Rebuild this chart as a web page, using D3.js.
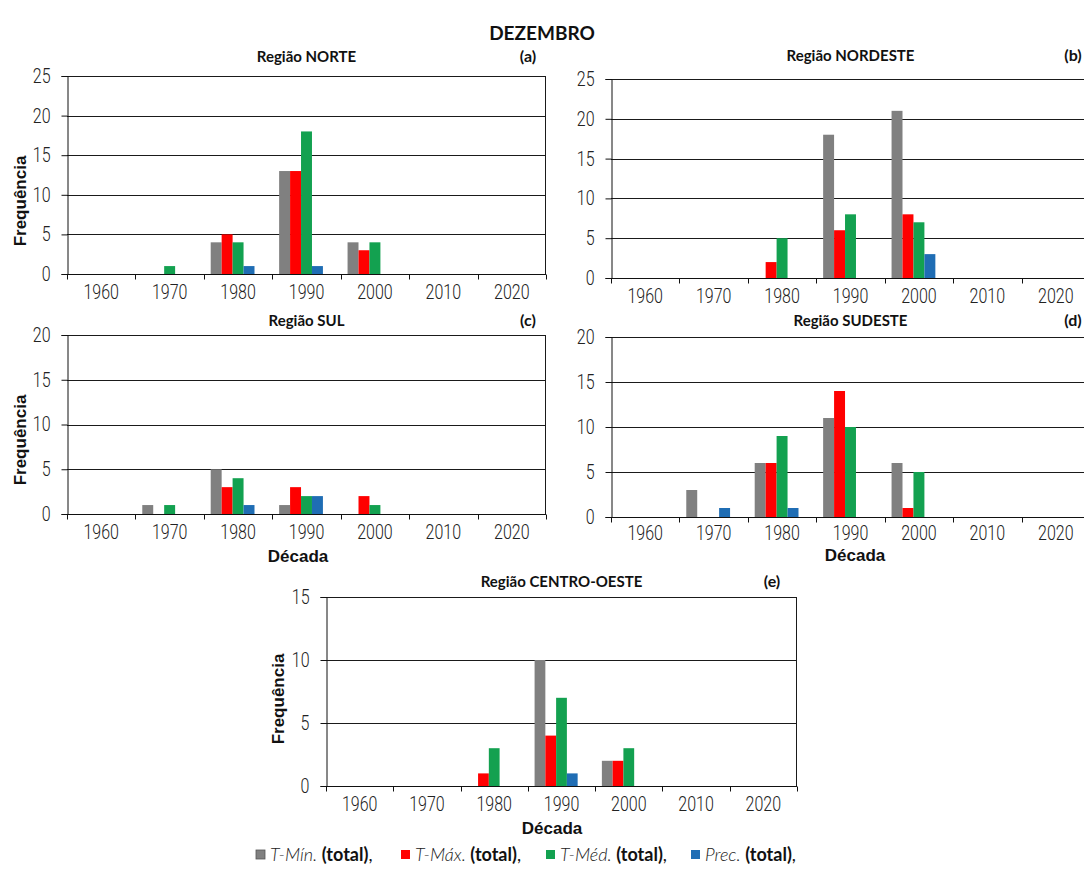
<!DOCTYPE html>
<html>
<head>
<meta charset="utf-8">
<script src="https://cdn.jsdelivr.net/npm/d3@7"></script>
<style>
  body { margin: 0; background: #fff; }
  svg { display: block; }
</style>
</head>
<body>
<svg id="chart" width="1084" height="871"></svg>
<script>
// Decades on the category axis
const decades = ["1960", "1970", "1980", "1990", "2000", "2010", "2020"];
const seriesNames = ["T-Mín.", "T-Máx.", "T-Méd.", "Prec."];
const seriesColors = ["#808080", "#ff0000", "#13a150", "#1f6db4"];

// Frequency of events per decade, one array per series and region
const norteTMin = [0, 0, 4, 13, 4, 0, 0];
const norteTMax = [0, 0, 5, 13, 3, 0, 0];
const norteTMed = [0, 1, 4, 18, 4, 0, 0];
const nortePrec = [0, 0, 1, 1, 0, 0, 0];

const nordesteTMin = [0, 0, 0, 18, 21, 0, 0];
const nordesteTMax = [0, 0, 2, 6, 8, 0, 0];
const nordesteTMed = [0, 0, 5, 8, 7, 0, 0];
const nordestePrec = [0, 0, 0, 0, 3, 0, 0];

const sulTMin = [0, 1, 5, 1, 0, 0, 0];
const sulTMax = [0, 0, 3, 3, 2, 0, 0];
const sulTMed = [0, 1, 4, 2, 1, 0, 0];
const sulPrec = [0, 0, 1, 2, 0, 0, 0];

const sudesteTMin = [0, 3, 6, 11, 6, 0, 0];
const sudesteTMax = [0, 0, 6, 14, 1, 0, 0];
const sudesteTMed = [0, 0, 9, 10, 5, 0, 0];
const sudestePrec = [0, 1, 1, 0, 0, 0, 0];

const coTMin = [0, 0, 0, 10, 2, 0, 0];
const coTMax = [0, 0, 1, 4, 2, 0, 0];
const coTMed = [0, 0, 3, 7, 3, 0, 0];
const coPrec = [0, 0, 0, 1, 0, 0, 0];

const yMaxima = [25, 25, 20, 20, 15];
const regionTitles = ["Região NORTE", "Região NORDESTE", "Região SUL", "Região SUDESTE", "Região CENTRO-OESTE"];
const panelTags = ["(a)", "(b)", "(c)", "(d)", "(e)"];

const regionSeries = [
  [norteTMin, norteTMax, norteTMed, nortePrec],
  [nordesteTMin, nordesteTMax, nordesteTMed, nordestePrec],
  [sulTMin, sulTMax, sulTMed, sulPrec],
  [sudesteTMin, sudesteTMax, sudesteTMed, sudestePrec],
  [coTMin, coTMax, coTMed, coPrec]
];

// Plot-area geometry for each panel
const layout = [
  { x0: 67,  x1: 546,  y0: 76,  y1: 274, labelY: 24, titleY: 62,  tagX: 528,  yTitle: 201, xTitle: null },
  { x0: 611, x1: 1090, y0: 79,  y1: 278, labelY: 24, titleY: 61,  tagX: 1073, yTitle: null, xTitle: null },
  { x0: 67,  x1: 546,  y0: 335, y1: 514, labelY: 24, titleY: 326, tagX: 528,  yTitle: 440, xTitle: { x: 298, y: 562 } },
  { x0: 611, x1: 1090, y0: 337, y1: 517, labelY: 22, titleY: 326, tagX: 1073, yTitle: null, xTitle: { x: 855, y: 561 } },
  { x0: 326, x1: 797,  y0: 597, y1: 786, labelY: 24, titleY: 587, tagX: 772,  yTitle: 699, xTitle: { x: 552, y: 834 } }
];

const svg = d3.select("#chart");
const tickFont = "Roboto, 'Liberation Sans', sans-serif";
const titleFont = "Lato, 'Open Sans', sans-serif";
const boldFont = "'Liberation Sans', Arial, sans-serif";

// narrow light tick labels
function narrow(sel, factor) {
  sel.each(function () {
    const w = this.getComputedTextLength();
    d3.select(this).attr("textLength", w * factor).attr("lengthAdjust", "spacingAndGlyphs");
  });
}

svg.append("text")
  .attr("x", 542).attr("y", 40)
  .attr("text-anchor", "middle")
  .style("font-family", titleFont).style("font-weight", 700).style("font-size", "19px")
  .attr("fill", "#111")
  .text("DEZEMBRO");

layout.forEach((p, i) => {
  const g = svg.append("g");
  const x = d3.scaleBand().domain(decades).range([p.x0, p.x1]).padding(0);
  const inner = d3.scaleBand().domain(d3.range(seriesNames.length))
    .range([x.bandwidth() * 0.1, x.bandwidth() * 0.74]).padding(0);
  const y = d3.scaleLinear().domain([0, yMaxima[i]]).range([p.y1, p.y0]);
  const yTicks = d3.range(0, yMaxima[i] + 1, 5);

  // horizontal gridlines
  g.selectAll("line.grid").data(yTicks.filter(t => t > 0)).join("line")
    .attr("x1", p.x0).attr("x2", p.x1)
    .attr("y1", d => Math.round(y(d)) + 0.5).attr("y2", d => Math.round(y(d)) + 0.5)
    .attr("stroke", "#1a1a1a").attr("stroke-width", 1);

  // right border
  g.append("line")
    .attr("x1", p.x1 - 0.5).attr("x2", p.x1 - 0.5)
    .attr("y1", Math.round(p.y0) + 0.5).attr("y2", p.y1)
    .attr("stroke", "#1a1a1a");

  // bars
  regionSeries[i].forEach((vals, s) => {
    g.selectAll("rect.s" + s).data(vals.map((v, k) => ({ v, d: decades[k] })).filter(e => e.v > 0))
      .join("rect")
      .attr("x", e => x(e.d) + inner(s))
      .attr("width", inner.bandwidth())
      .attr("y", e => y(e.v))
      .attr("height", e => y(0) - y(e.v))
      .attr("fill", seriesColors[s]);
  });

  // y axis
  const yAxis = d3.axisLeft(y).tickValues(yTicks).tickSize(6).tickPadding(11);
  const ya = g.append("g").attr("transform", `translate(${Math.round(p.x0) + 0.5},0)`).call(yAxis);
  ya.select(".domain").attr("stroke", "#111");
  ya.selectAll(".tick line").attr("stroke", "#111");
  ya.selectAll("text").style("font-family", tickFont).style("font-weight", 300)
    .style("font-size", "20px").attr("fill", "#222").call(narrow, 0.8);

  // x axis: ticks at category boundaries, labels at centres
  const xa = g.append("g").attr("transform", `translate(0,${Math.round(p.y1) + 0.5})`);
  xa.append("line").attr("x1", p.x0).attr("x2", p.x1).attr("stroke", "#111");
  const bounds = decades.map(d => x(d)).concat([p.x1]);
  xa.selectAll("line.tk").data(bounds).join("line")
    .attr("x1", d => Math.round(d) + 0.5).attr("x2", d => Math.round(d) + 0.5)
    .attr("y1", 0).attr("y2", 5).attr("stroke", "#111");
  xa.selectAll("text").data(decades).join("text")
    .attr("x", d => x(d) + x.bandwidth() / 2).attr("y", p.labelY)
    .attr("text-anchor", "middle")
    .style("font-family", tickFont).style("font-weight", 300)
    .style("font-size", "20px").attr("fill", "#222")
    .text(d => d)
    .call(narrow, 0.8);

  // panel title and tag
  g.append("text")
    .attr("x", (p.x0 + p.x1) / 2).attr("y", p.titleY)
    .attr("text-anchor", "middle")
    .style("font-family", titleFont).style("font-weight", 700).style("font-size", "15px")
    .attr("fill", "#111")
    .text(regionTitles[i]);
  g.append("text")
    .attr("x", p.tagX).attr("y", p.titleY)
    .attr("text-anchor", "middle")
    .style("font-family", titleFont).style("font-weight", 700).style("font-size", "16px")
    .attr("fill", "#111")
    .text(panelTags[i]);

  if (p.yTitle !== null) {
    g.append("text")
      .attr("transform", `translate(${i === 4 ? 284 : 26},${p.yTitle}) rotate(-90)`)
      .attr("text-anchor", "middle")
      .style("font-family", boldFont).style("font-weight", 700).style("font-size", "17px")
      .attr("fill", "#111")
      .text("Frequência");
  }
  if (p.xTitle !== null) {
    g.append("text")
      .attr("x", p.xTitle.x).attr("y", p.xTitle.y)
      .attr("text-anchor", "middle")
      .style("font-family", boldFont).style("font-weight", 700).style("font-size", "17px")
      .attr("fill", "#111")
      .text("Década");
  }
});

// legend
const legendX = [256, 401, 546, 691];
const legend = svg.append("g");
seriesNames.forEach((name, s) => {
  legend.append("rect")
    .attr("x", legendX[s]).attr("y", 850)
    .attr("width", 9).attr("height", 9)
    .attr("fill", seriesColors[s])
    .attr("stroke", s === 0 ? "#555" : "none").attr("stroke-width", 0.8);
  const t = legend.append("text")
    .attr("x", legendX[s] + 14).attr("y", 861)
    .style("font-family", titleFont).style("font-size", "18px")
    .attr("fill", "#111");
  t.append("tspan").style("font-style", "italic").style("font-weight", 300).attr("fill", "#222").text(name + " ");
  t.append("tspan").style("font-weight", 700).text("(total)");
  t.append("tspan").text(",");
});
</script>
</body>
</html>
